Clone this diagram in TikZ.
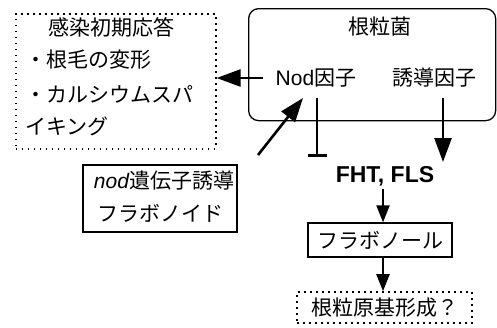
\documentclass[tikz,border=0pt]{standalone}
\usepackage{fontspec}
\setmainfont{Noto Sans CJK JP}
\newfontfamily\lat{Liberation Sans}
\usetikzlibrary{arrows.meta}
\begin{document}
\begin{tikzpicture}[x=1pt,y=-1pt,
  font=\fontsize{21}{33}\selectfont,
  dotbox/.style={draw, line width=1.6pt, dash pattern=on 1.6pt off 4.4pt},
  solidbox/.style={draw, line width=1.3pt},
  bigarrow/.style={line width=2.6pt, -{Triangle[length=24pt,width=17pt]}},
  smallarrow/.style={line width=2.2pt, -{Triangle[length=17pt,width=13pt]}},
  tbar/.style={line width=2.6pt, -{Bar[width=19pt]}}]
\useasboundingbox (0,0) rectangle (497,327);
% response box
\node[dotbox, minimum width=200pt, minimum height=135pt, anchor=north west] (resp) at (15,13) {};
\node[anchor=west, inner sep=0pt] (r1) at (48,27) {感染初期応答};
\node[anchor=west, inner sep=0pt] (r2) at (25,60) {・根毛の変形};
\node[anchor=west, inner sep=0pt] (r3) at (25,94) {・カルシウムスパ};
\node[anchor=west, inner sep=0pt] (r4) at (25,126) {イキング};
% bacterium box
\node[solidbox, rounded corners=10pt, minimum width=247pt, minimum height=112pt, anchor=north west] (bact) at (248,8) {};
\node (rhiz) at (380,27) {根粒菌};
\node (nodf) at (316,78) {{\lat Nod}因子};
\node (ind) at (434,78) {誘導因子};
% flavonoid box
\node[solidbox, minimum width=154pt, minimum height=67pt] (nodg) at (160,198.5) {};
\node (ng1) at (164,181) {{\lat\itshape nod}遺伝子誘導};
\node (ng2) at (160,213) {フラボノイド};
% pathway
\node[font=\lat\bfseries\fontsize{23}{28}\selectfont] (fht) at (385,176) {FHT, FLS};
\node[solidbox, minimum width=144pt, minimum height=34pt] (flv) at (380,240) {フラボノール};
\node[dotbox, minimum width=175pt, minimum height=31pt] (prim) at (384.5,307.5) {根粒原基形成？};
% connectors
\coordinate (ns) at (258,155);
\coordinate (nt) at (303,98);
\coordinate (tb1) at (317,98);
\coordinate (tb2) at (317,157);
\coordinate (ia) at (443,98);
\coordinate (ib) at (443,162);
\coordinate (fa) at (383,189);
\draw[bigarrow] ([xshift=-9pt]nodf.west) -- (nodf.west -| resp.east);
\draw[bigarrow] (ns) -- (nt);
\draw[tbar] (tb1) -- (tb2);
\draw[bigarrow] (ia) -- (ib);
\draw[smallarrow] (fa) -- (fa |- flv.north);
\draw[smallarrow] (fa |- flv.south) -- (fa |- prim.north);
\end{tikzpicture}
\end{document}
